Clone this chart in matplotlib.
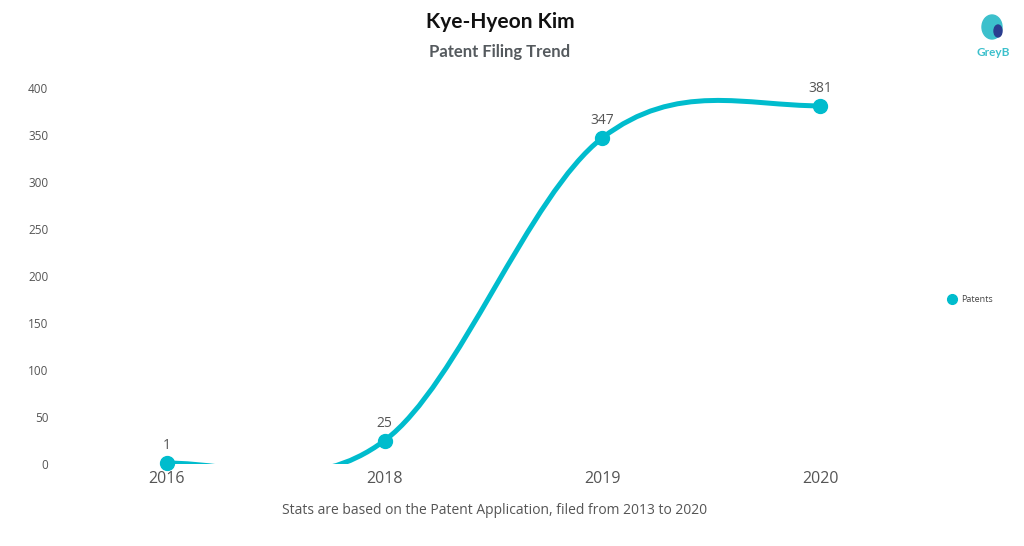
import matplotlib
matplotlib.use("Agg")
import matplotlib.pyplot as plt
import numpy as np
from matplotlib.path import Path
from matplotlib.patches import PathPatch, Ellipse

years = ["2016", "2018", "2019", "2020"]
patents = [1, 25, 347, 381]
yticks = [0, 50, 100, 150, 200, 250, 300, 350, 400]

color = "#00bccd"
W, H = 1024, 546
fig = plt.figure(figsize=(W / 100, H / 100), dpi=100)
ax = fig.add_axes([58 / W, (546 - 464) / H, (929 - 58) / W, (464 - 88) / H])

x = np.arange(len(years), dtype=float)
y = np.array(patents, dtype=float)
t = 0.17
verts, codes = [(x[0], y[0])], [Path.MOVETO]
n = len(x)
for i in range(n - 1):
    if i == 0:
        c1 = (x[i] + 2 * t * (x[i + 1] - x[i]), y[i])
    else:
        c1 = (x[i] + t * (x[i + 1] - x[i - 1]), y[i] + t * (y[i + 1] - y[i - 1]))
    if i + 1 == n - 1:
        c2 = (x[i + 1] - 2 * t * (x[i + 1] - x[i]), y[i + 1])
    else:
        c2 = (x[i + 1] - t * (x[i + 2] - x[i]), y[i + 1] - t * (y[i + 2] - y[i]))
    verts += [c1, c2, (x[i + 1], y[i + 1])]
    codes += [Path.CURVE4] * 3
ax.add_patch(PathPatch(Path(verts, codes), fill=False, edgecolor=color, lw=3.6,
                       capstyle="round", joinstyle="round"))
ax.plot(x, y, "o", color=color, ms=10, clip_on=False, zorder=5)
for xi, yi in zip(x, y):
    ax.annotate(str(int(yi)), (xi, yi), xytext=(0, 7), textcoords="offset points",
                ha="center", va="bottom", fontsize=10, color="#555555", family="Open Sans")

ax.set_xlim(-0.5, 3.5)
ax.set_ylim(0, 400)
ax.set_xticks(x)
ax.set_xticklabels(years, fontsize=11.5, color="#555555", family="Open Sans")
ax.set_yticks(yticks)
ax.set_yticklabels([str(v) for v in yticks], fontsize=8.5, color="#555555", family="Open Sans")
ax.tick_params(axis="x", length=0, pad=5)
ax.tick_params(axis="y", length=0, pad=7)
for s in ax.spines.values():
    s.set_visible(False)

fig.text(500 / W, 1 - 22 / H, "Kye-Hyeon Kim", ha="center", va="center",
         fontsize=15, fontweight="bold", family="Lato", color="#111111")
fig.text(500 / W, 1 - 52 / H, "Patent Filing Trend", ha="center", va="center",
         fontsize=12, fontweight="bold", family="Lato", color="#555a5e")
fig.text(495 / W, 1 - 510 / H, "Stats are based on the Patent Application, filed from 2013 to 2020",
         ha="center", va="center", fontsize=10, family="Open Sans", color="#555555")

# legend
fig.lines.append(plt.Line2D([952 / W], [1 - 299 / H], marker="o", ms=7, color=color,
                            transform=fig.transFigure))
fig.text(961 / W, 1 - 300 / H, "Patents", ha="left", va="center", fontsize=6.5,
         family="Open Sans", color="#444444")

# logo
fig.patches.append(Ellipse((992 / W, 1 - 27 / H), 20 / W, 24 / H, transform=fig.transFigure,
                           color="#3cc0cc"))
fig.patches.append(Ellipse((998 / W, 1 - 31 / H), 8 / W, 12 / H, transform=fig.transFigure,
                           color="#2a3d8f"))
fig.text(993 / W, 1 - 53 / H, "GreyB", ha="center", va="center", fontsize=8.5,
         fontweight="bold", family="Lato", color="#3cc0cc")

fig.savefig("out.png", dpi=100)
